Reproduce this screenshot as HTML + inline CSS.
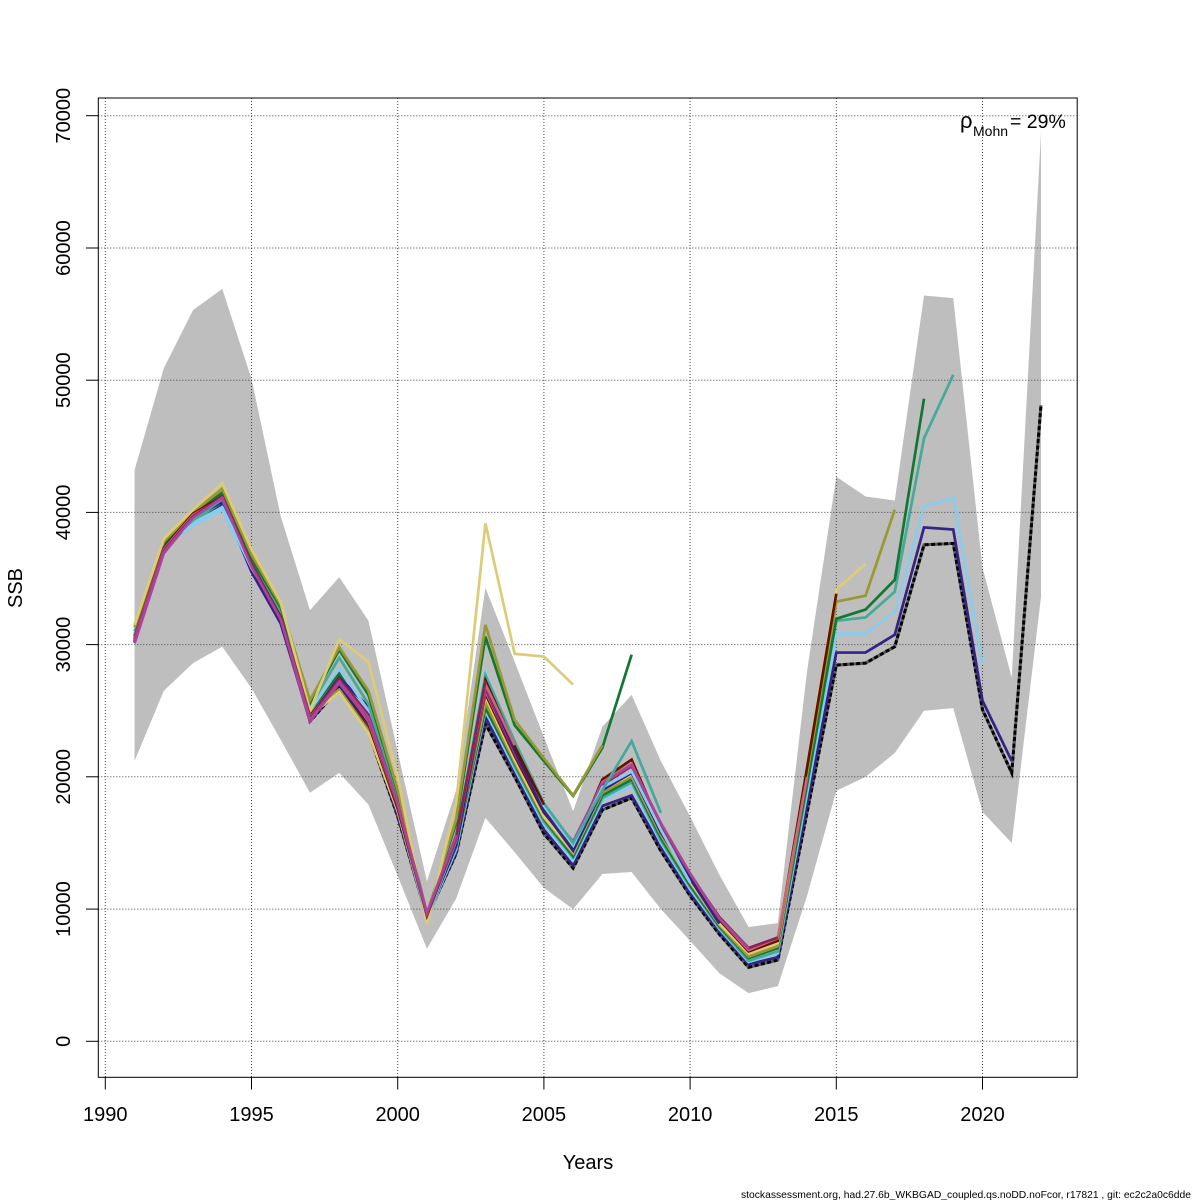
<!DOCTYPE html>
<html>
<head>
<meta charset="utf-8">
<style>
html,body{margin:0;padding:0;background:#fff;}
svg{display:block;}
text{font-family:"Liberation Sans",Arial,sans-serif;fill:#000;}
</style>
</head>
<body>
<svg width="1200" height="1200" viewBox="0 0 1200 1200" xmlns="http://www.w3.org/2000/svg">
<rect x="0" y="0" width="1200" height="1200" fill="#fff"/>

<!-- confidence band -->
<g transform="translate(105.3 1041.3) scale(29.24 -13.223)">
<polygon fill="#BEBEBE" stroke="none" points="1,43.2 2,50.9 3,55.3 4,56.9 5,50.1 6,39.7 7,32.6 8,35.1 9,31.8 10,21.9 11,12.1 12,19.0 13,34.3 14,28.7 15,23.0 16,17.4 17,23.8 18,26.2 19,21.2 20,17.0 21,12.6 22,8.64 23,8.94 24,28.0 25,42.7 26,41.2 27,40.9 28,56.4 29,56.2 30,35.8 31,27.5 32,68.7 32,33.6 31,15.0 30,17.35 29,25.2 28,25.0 27,21.8 26,20.0 25,18.94 24,11.0 23,4.17 22,3.64 21,5.15 20,7.6 19,10.0 18,12.8 17,12.65 16,10.0 15,11.6 14,14.3 13,16.9 12,10.8 11,7.0 10,12.5 9,17.9 8,20.3 7,18.8 6,22.8 5,26.7 4,29.85 3,28.6 2,26.5 1,21.2"/>
</g>

<!-- grid -->
<g stroke="#444" stroke-width="1" stroke-dasharray="1 2" fill="none">
<line x1="105.3" y1="98" x2="105.3" y2="1077.3"/>
<line x1="251.5" y1="98" x2="251.5" y2="1077.3"/>
<line x1="397.7" y1="98" x2="397.7" y2="1077.3"/>
<line x1="543.9" y1="98" x2="543.9" y2="1077.3"/>
<line x1="690.1" y1="98" x2="690.1" y2="1077.3"/>
<line x1="836.3" y1="98" x2="836.3" y2="1077.3"/>
<line x1="982.5" y1="98" x2="982.5" y2="1077.3"/>
<line x1="98.3" y1="1041.3" x2="1077.2" y2="1041.3"/>
<line x1="98.3" y1="909.1" x2="1077.2" y2="909.1"/>
<line x1="98.3" y1="776.8" x2="1077.2" y2="776.8"/>
<line x1="98.3" y1="644.6" x2="1077.2" y2="644.6"/>
<line x1="98.3" y1="512.4" x2="1077.2" y2="512.4"/>
<line x1="98.3" y1="380.2" x2="1077.2" y2="380.2"/>
<line x1="98.3" y1="248.0" x2="1077.2" y2="248.0"/>
<line x1="98.3" y1="115.7" x2="1077.2" y2="115.7"/>
</g>

<!-- base run (drawn under peels) -->
<polyline fill="none" stroke="#5a5a5a" stroke-width="3" points="134.54,642.0 163.78,548.1 193.02,520.3 222.26,505.8 251.5,569.2 280.74,618.2 309.98,721.3 339.22,688.2 368.46,731.9 397.7,816.5 426.94,917.0 456.18,853.5 485.42,723.9 514.66,776.8 543.9,833.7 573.14,868.1 602.38,809.9 631.62,798.0 660.86,850.9 690.1,895.8 719.34,934.2 748.58,967.3 777.82,960.0 807.06,812.5 836.3,665.1 865.54,663.1 894.78,646.6 924.02,544.8 953.26,543.4 982.5,709.7 1011.74,772.9 1040.98,405.3"/>
<polyline fill="none" stroke="#000" stroke-width="3" stroke-dasharray="4 2.5" points="134.54,642.0 163.78,548.1 193.02,520.3 222.26,505.8 251.5,569.2 280.74,618.2 309.98,721.3 339.22,688.2 368.46,731.9 397.7,816.5 426.94,917.0 456.18,853.5 485.42,723.9 514.66,776.8 543.9,833.7 573.14,868.1 602.38,809.9 631.62,798.0 660.86,850.9 690.1,895.8 719.34,934.2 748.58,967.3 777.82,960.0 807.06,812.5 836.3,665.1 865.54,663.1 894.78,646.6 924.02,544.8 953.26,543.4 982.5,709.7 1011.74,772.9 1040.98,405.3"/>

<!-- retro peels -->
<g transform="translate(105.3 1041.3) scale(29.24 -13.223)" fill="none" stroke-linejoin="miter" stroke-linecap="butt">
<polyline vector-effect="non-scaling-stroke" stroke-width="2.7" stroke="#332288" points="1,30.3 2,37.5 3,39.5 4,40.6 5,35.6 6,31.6 7,24.2 8,27.0 9,23.6 10,17.1 11,9.4 12,14.3 13,24.5 14,20.3 15,16.0 16,13.3 17,17.8 18,18.6 19,14.7 20,11.2 21,8.3 22,5.83 23,6.36 24,17.88 25,29.4 26,29.4 27,30.75 28,38.86 29,38.7 30,25.76 31,21.2"/>
<polyline vector-effect="non-scaling-stroke" stroke-width="2.7" stroke="#88CCEE" points="1,30.5 2,37.4 3,39.0 4,40.2 5,35.6 6,32.0 7,24.6 8,27.3 9,24.0 10,17.4 11,9.3 12,14.5 13,25.0 14,20.6 15,16.4 16,13.7 17,18.2 18,19.3 19,15.0 20,11.5 21,8.5 22,6.0 23,6.65 24,18.74 25,30.83 26,30.83 27,32.5 28,40.45 29,41.1 30,28.48"/>
<polyline vector-effect="non-scaling-stroke" stroke-width="2.7" stroke="#44AA99" points="1,30.6 2,37.4 3,39.3 4,40.8 5,35.9 6,32.2 7,24.8 8,27.6 9,24.2 10,17.6 11,9.4 12,14.7 13,25.3 14,20.8 15,16.6 16,13.9 17,18.4 18,19.6 19,15.2 20,11.7 21,8.6 22,6.1 23,6.8 24,19.3 25,31.8 26,32.05 27,34.0 28,45.6 29,50.4"/>
<polyline vector-effect="non-scaling-stroke" stroke-width="2.7" stroke="#117733" points="1,30.7 2,37.5 3,39.5 4,41.0 5,36.0 6,32.4 7,25.0 8,27.8 9,24.4 10,17.8 11,9.5 12,14.9 13,25.2 14,21.0 15,16.8 16,14.0 17,18.6 18,19.8 19,15.4 20,11.8 21,8.7 22,6.3 23,7.05 24,19.5 25,31.95 26,32.65 27,34.9 28,48.6"/>
<polyline vector-effect="non-scaling-stroke" stroke-width="2.7" stroke="#999933" points="1,30.8 2,37.6 3,39.6 4,41.2 5,36.2 6,32.6 7,24.9 8,26.6 9,23.5 10,17.5 11,9.6 12,15.0 13,25.6 14,21.1 15,16.9 16,14.2 17,18.8 18,20.0 19,15.6 20,12.0 21,8.8 22,6.4 23,7.2 24,20.2 25,33.25 26,33.7 27,40.2"/>
<polyline vector-effect="non-scaling-stroke" stroke-width="2.7" stroke="#DDCC77" points="1,31.0 2,37.8 3,39.8 4,41.6 5,36.4 6,32.8 7,24.6 8,26.4 9,23.3 10,17.4 11,9.5 12,15.2 13,26.06 14,21.3 15,17.0 16,14.3 17,19.0 18,20.2 19,15.8 20,12.1 21,8.9 22,6.65 23,7.43 24,20.8 25,34.15 26,36.1"/>
<polyline vector-effect="non-scaling-stroke" stroke-width="2.7" stroke="#661100" points="1,30.4 2,37.4 3,39.7 4,41.0 5,36.0 6,32.0 7,24.4 8,27.2 9,24.0 10,17.6 11,9.5 12,14.9 13,26.3 14,21.6 15,17.3 16,14.6 17,19.8 18,21.3 19,16.2 20,12.4 21,9.2 22,6.8 23,7.6 24,20.7 25,33.85"/>
<polyline vector-effect="non-scaling-stroke" stroke-width="2.7" stroke="#CC6677" points="1,30.3 2,37.2 3,39.8 4,41.1 5,35.9 6,31.9 7,24.3 8,27.3 9,24.2 10,17.8 11,9.6 12,15.0 13,26.5 14,21.8 15,17.5 16,14.9 17,19.6 18,21.0 19,16.3 20,12.5 21,9.3 22,6.9 23,7.8 24,20.0"/>
<polyline vector-effect="non-scaling-stroke" stroke-width="2.7" stroke="#882255" points="1,30.2 2,37.0 3,39.7 4,41.3 5,36.0 6,31.8 7,24.3 8,27.4 9,24.4 10,17.9 11,9.6 12,15.0 13,26.7 14,21.7 15,17.6 16,15.0 17,19.4 18,20.8 19,16.4 20,12.6 21,9.4 22,7.05 23,7.85"/>
<polyline vector-effect="non-scaling-stroke" stroke-width="2.7" stroke="#AA4499" points="1,30.1 2,36.9 3,39.6 4,41.2 5,35.8 6,31.7 7,24.2 8,27.1 9,24.3 10,17.9 11,9.6 12,15.1 13,26.9 14,21.9 15,17.7 16,15.1 17,19.5 18,20.9 19,16.5 20,12.7 21,9.3 22,7.0"/>
<polyline vector-effect="non-scaling-stroke" stroke-width="2.7" stroke="#332288" points="1,30.4 2,37.5 3,39.6 4,40.8 5,35.5 6,31.6 7,24.5 8,27.5 9,25.3 10,18.0 11,9.4 12,14.8 13,27.0 14,22.0 15,17.4 16,14.4 17,19.0 18,20.3 19,15.8 20,12.3 21,8.9"/>
<polyline vector-effect="non-scaling-stroke" stroke-width="2.7" stroke="#88CCEE" points="1,30.8 2,37.6 3,39.2 4,40.4 5,35.8 6,32.3 7,25.0 8,28.2 9,25.0 10,18.0 11,9.3 12,15.2 13,27.9 14,22.5 15,17.8 16,14.8 17,19.2 18,20.4 19,16.0 20,12.0"/>
<polyline vector-effect="non-scaling-stroke" stroke-width="2.7" stroke="#44AA99" points="1,31.0 2,37.5 3,39.4 4,41.0 5,36.2 6,32.5 7,25.3 8,29.0 9,25.5 10,18.3 11,9.4 12,15.5 13,27.7 14,22.7 15,18.0 16,15.0 17,19.0 18,22.7 19,17.27"/>
<polyline vector-effect="non-scaling-stroke" stroke-width="2.7" stroke="#117733" points="1,31.5 2,37.6 3,39.8 4,41.5 5,36.5 6,32.8 7,25.6 8,29.6 9,26.2 10,18.8 11,9.6 12,16.5 13,30.6 14,23.9 15,21.2 16,18.56 17,22.2 18,29.24"/>
<polyline vector-effect="non-scaling-stroke" stroke-width="2.7" stroke="#999933" points="1,31.3 2,37.8 3,40.0 4,41.8 5,36.8 6,33.0 7,25.8 8,29.8 9,26.5 10,19.0 11,9.6 12,16.8 13,31.5 14,24.3 15,21.4 16,18.6 17,22.4"/>
<polyline vector-effect="non-scaling-stroke" stroke-width="2.7" stroke="#DDCC77" points="1,31.5 2,38.0 3,40.2 4,42.2 5,37.2 6,33.2 7,25.0 8,30.4 9,28.7 10,20.0 11,8.9 12,18.0 13,39.17 14,29.3 15,29.1 16,26.97"/>
<polyline vector-effect="non-scaling-stroke" stroke-width="2.7" stroke="#661100" points="1,30.6 2,37.3 3,39.9 4,41.2 5,36.1 6,32.1 7,24.6 8,27.4 9,24.5 10,17.8 11,9.5 12,15.3 13,27.3 14,22.3 15,17.9"/>
<polyline vector-effect="non-scaling-stroke" stroke-width="2.7" stroke="#CC6677" points="1,30.5 2,37.2 3,39.8 4,41.1 5,36.0 6,32.0 7,24.5 8,27.3 9,24.6 10,17.9 11,9.6 12,15.4 13,27.0 14,22.4"/>
<polyline vector-effect="non-scaling-stroke" stroke-width="2.7" stroke="#882255" points="1,30.4 2,37.1 3,39.7 4,41.2 5,36.1 6,32.0 7,24.4 8,27.4 9,24.7 10,18.0 11,9.6 12,15.5 13,27.2"/>
<polyline vector-effect="non-scaling-stroke" stroke-width="2.7" stroke="#AA4499" points="1,30.3 2,37.0 3,39.6 4,41.1 5,35.9 6,31.9 7,24.3 8,27.2 9,24.5 10,18.0 11,9.7 12,15.6"/>
</g>

<!-- box -->
<rect x="98.3" y="98" width="978.9" height="979.3" fill="none" stroke="#000" stroke-width="1"/>

<!-- ticks -->
<g stroke="#000" stroke-width="1">
<line x1="105.3" y1="1077.3" x2="105.3" y2="1089.5"/>
<line x1="251.5" y1="1077.3" x2="251.5" y2="1089.5"/>
<line x1="397.7" y1="1077.3" x2="397.7" y2="1089.5"/>
<line x1="543.9" y1="1077.3" x2="543.9" y2="1089.5"/>
<line x1="690.1" y1="1077.3" x2="690.1" y2="1089.5"/>
<line x1="836.3" y1="1077.3" x2="836.3" y2="1089.5"/>
<line x1="982.5" y1="1077.3" x2="982.5" y2="1089.5"/>
<line x1="86" y1="1041.3" x2="98.3" y2="1041.3"/>
<line x1="86" y1="909.1" x2="98.3" y2="909.1"/>
<line x1="86" y1="776.8" x2="98.3" y2="776.8"/>
<line x1="86" y1="644.6" x2="98.3" y2="644.6"/>
<line x1="86" y1="512.4" x2="98.3" y2="512.4"/>
<line x1="86" y1="380.2" x2="98.3" y2="380.2"/>
<line x1="86" y1="248.0" x2="98.3" y2="248.0"/>
<line x1="86" y1="115.7" x2="98.3" y2="115.7"/>
</g>

<!-- x tick labels -->
<g font-size="20" text-anchor="middle">
<text x="105.3" y="1121">1990</text>
<text x="251.5" y="1121">1995</text>
<text x="397.7" y="1121">2000</text>
<text x="543.9" y="1121">2005</text>
<text x="690.1" y="1121">2010</text>
<text x="836.3" y="1121">2015</text>
<text x="982.5" y="1121">2020</text>
</g>

<!-- y tick labels -->
<g font-size="20" text-anchor="middle">
<text transform="translate(70 1041.3) rotate(-90)">0</text>
<text transform="translate(70 909.1) rotate(-90)">10000</text>
<text transform="translate(70 776.8) rotate(-90)">20000</text>
<text transform="translate(70 644.6) rotate(-90)">30000</text>
<text transform="translate(70 512.4) rotate(-90)">40000</text>
<text transform="translate(70 380.2) rotate(-90)">50000</text>
<text transform="translate(70 248.0) rotate(-90)">60000</text>
<text transform="translate(70 115.7) rotate(-90)">70000</text>
</g>

<!-- axis titles -->
<text x="588" y="1169" font-size="20" text-anchor="middle">Years</text>
<text transform="translate(22 588) rotate(-90)" font-size="20" text-anchor="middle">SSB</text>

<!-- Mohn's rho -->
<text x="960" y="128" font-size="22">ρ</text>
<text x="973" y="136" font-size="14">Mohn</text>
<text x="1010" y="128" font-size="19.5">= 29%</text>

<!-- footer -->
<text x="741" y="1198" font-size="10.5" textLength="450" lengthAdjust="spacingAndGlyphs">stockassessment.org, had.27.6b_WKBGAD_coupled.qs.noDD.noFcor, r17821 , git: ec2c2a0c6dde</text>
</svg>
</body>
</html>
